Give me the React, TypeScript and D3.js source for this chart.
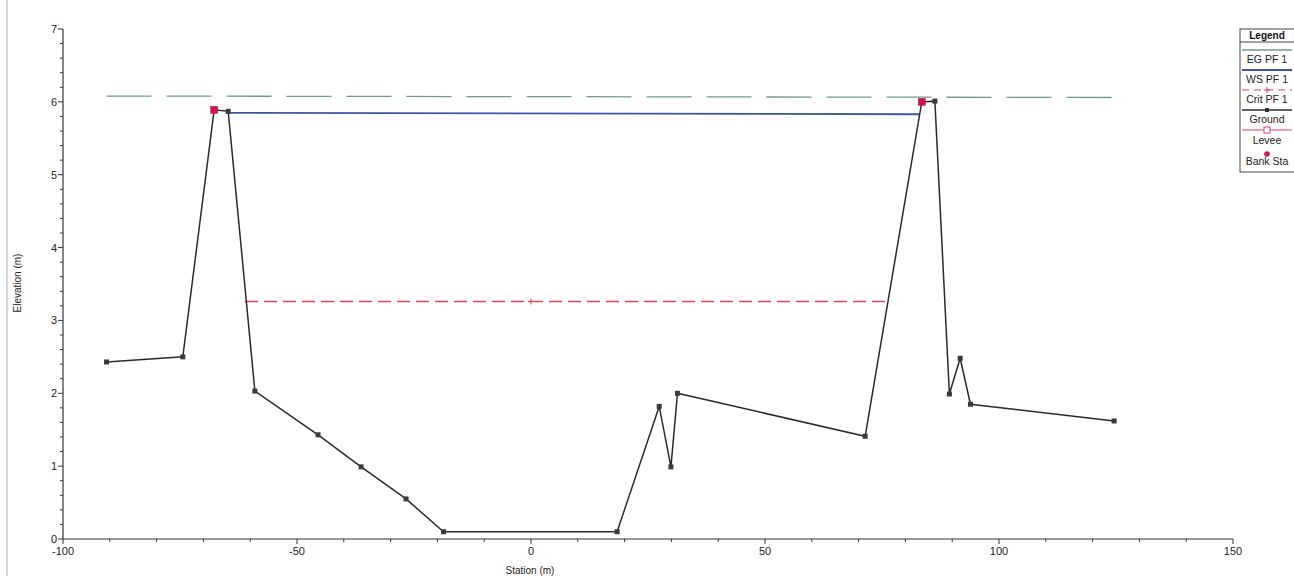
import React from "react";
import * as d3 from "d3";

const groundStation = [-90.7, -74.4, -67.7, -64.7, -59.0, -45.5, -36.3, -26.7, -18.7, 18.4, 27.4, 29.9, 31.3, 71.4, 83.5, 86.3, 89.4, 91.7, 93.9, 124.6];
const groundElev = [2.43, 2.5, 5.89, 5.87, 2.03, 1.43, 0.99, 0.55, 0.1, 0.1, 1.82, 0.99, 2.0, 1.41, 6.0, 6.01, 1.99, 2.48, 1.85, 1.62];
const leveeIndex = [2, 14];

const egStation = [-90.7, 124.6];
const egElev = [6.08, 6.06];
const wsStation = [-64.7, 83.1];
const wsElev = [5.85, 5.83];
const critStation = [-61.1, 77.0];
const critElev = [3.26, 3.26];
const critMarkStation = [0];

const xTicks = [-100, -50, 0, 50, 100, 150];
const yTicks = [0, 1, 2, 3, 4, 5, 6, 7];
const legendItems = ["EG PF 1", "WS PF 1", "Crit PF 1", "Ground", "Levee", "Bank Sta"];

export default function App() {
  const W = 1294, H = 576;
  const x = d3.scaleLinear().domain([-100, 150]).range([63, 1233]);
  const y = d3.scaleLinear().domain([0, 7]).range([539, 29]);
  const line = d3.line<[number, number]>().x(d => x(d[0])).y(d => y(d[1]));
  const ground: [number, number][] = groundStation.map((s, i) => [s, groundElev[i]]);
  const eg: [number, number][] = egStation.map((s, i) => [s, egElev[i]]);
  const ws: [number, number][] = wsStation.map((s, i) => [s, wsElev[i]]);
  const crit: [number, number][] = critStation.map((s, i) => [s, critElev[i]]);
  const xMinor = d3.range(-100, 151, 10).filter(v => v % 50 !== 0);
  const yMinor = d3.range(0, 7.01, 0.2).map(v => +v.toFixed(1)).filter(v => Math.abs(v - Math.round(v)) > 0.01);
  const font = "Liberation Sans, Arial, sans-serif";
  const axisColor = "#333";
  const critColor = "#e0405c";

  const lx0 = 1240, lx1 = 1294, lcx = 1267;
  const symY = [50, 70, 90, 110, 130, 154];
  const txtY = [63, 83, 103, 123, 144, 165];

  return (
    <svg width={W} height={H} style={{ position: "absolute", left: 0, top: 0, background: "#fff" }} fontFamily={font}>
      <rect x={0} y={0} width={W} height={H} fill="#fff" />
      <line x1={7} x2={7} y1={0} y2={H} stroke="#c8c8c8" strokeWidth={1.5} />

      {/* EG */}
      <path d={line(eg) || ""} fill="none" stroke="#6f9c88" strokeWidth={1.3} strokeDasharray="45,15" />
      {/* WS */}
      <path d={line(ws) || ""} fill="none" stroke="#3b55a8" strokeWidth={1.8} />
      {/* Crit */}
      <path d={line(crit) || ""} fill="none" stroke={critColor} strokeWidth={1.4} strokeDasharray="13,6" />
      {critMarkStation.map((s, i) => (
        <g key={i} stroke={critColor} strokeWidth={1}>
          <line x1={x(s) - 3} x2={x(s) + 3} y1={y(critElev[0])} y2={y(critElev[0])} />
          <line x1={x(s)} x2={x(s)} y1={y(critElev[0]) - 3} y2={y(critElev[0]) + 3} />
        </g>
      ))}
      {/* Ground */}
      <path d={line(ground) || ""} fill="none" stroke="#2a2a2a" strokeWidth={1.5} />
      {ground.map((p, i) =>
        leveeIndex.includes(i) ? null : (
          <rect key={i} x={x(p[0]) - 2.5} y={y(p[1]) - 2.5} width={5} height={5} fill="#3a3a3a" />
        )
      )}
      {leveeIndex.map(i => (
        <rect key={"l" + i} x={x(ground[i][0]) - 3.5} y={y(ground[i][1]) - 3.5} width={7} height={7} fill="#d0174f" stroke="#b01040" strokeWidth={0.5} />
      ))}

      {/* Axes */}
      <line x1={x(-100)} x2={x(150)} y1={y(0)} y2={y(0)} stroke={axisColor} strokeWidth={1.2} />
      <line x1={x(-100)} x2={x(-100)} y1={y(0)} y2={y(7)} stroke={axisColor} strokeWidth={1.2} />
      {xTicks.map(t => (
        <g key={"xt" + t}>
          <line x1={x(t)} x2={x(t)} y1={y(0)} y2={y(0) + 5} stroke={axisColor} />
          <text x={x(t)} y={y(0) + 16} textAnchor="middle" fontSize={11} fill="#222">{t}</text>
        </g>
      ))}
      {xMinor.map(t => (
        <line key={"xm" + t} x1={x(t)} x2={x(t)} y1={y(0)} y2={y(0) + 3} stroke={axisColor} />
      ))}
      {yTicks.map(t => (
        <g key={"yt" + t}>
          <line x1={x(-100) - 5} x2={x(-100)} y1={y(t)} y2={y(t)} stroke={axisColor} />
          <text x={x(-100) - 6} y={y(t) + 4} textAnchor="end" fontSize={11} fill="#222">{t}</text>
        </g>
      ))}
      {yMinor.map(t => (
        <line key={"ym" + t} x1={x(-100) - 3} x2={x(-100)} y1={y(t)} y2={y(t)} stroke={axisColor} />
      ))}
      <text x={530} y={574} textAnchor="middle" fontSize={10} fill="#222">Station (m)</text>
      <text transform="translate(21,283) rotate(-90)" textAnchor="middle" fontSize={10} fill="#222">Elevation (m)</text>

      {/* Legend */}
      <rect x={lx0} y={29} width={lx1 - lx0 + 2} height={143} fill="#fff" stroke="#444" strokeWidth={1} />
      <line x1={lx0} x2={lx1} y1={42} y2={42} stroke="#444" />
      <text x={lcx} y={39} textAnchor="middle" fontSize={10} fontWeight="bold" fill="#111">Legend</text>
      <line x1={lx0 + 2} x2={lx1 - 2} y1={symY[0]} y2={symY[0]} stroke="#6f9c88" strokeWidth={1.3} />
      <line x1={lx0 + 2} x2={lx1 - 2} y1={symY[1]} y2={symY[1]} stroke="#3b55a8" strokeWidth={1.8} />
      <line x1={lx0 + 2} x2={lx1 - 2} y1={symY[2]} y2={symY[2]} stroke={critColor} strokeWidth={1} strokeDasharray="7,5" />
      <line x1={lcx - 3} x2={lcx + 3} y1={symY[2]} y2={symY[2]} stroke={critColor} />
      <line x1={lcx} x2={lcx} y1={symY[2] - 3} y2={symY[2] + 3} stroke={critColor} />
      <line x1={lx0 + 2} x2={lx1 - 2} y1={symY[3]} y2={symY[3]} stroke="#2a2a2a" strokeWidth={1.5} />
      <rect x={lcx - 2} y={symY[3] - 2} width={4} height={4} fill="#333" />
      <line x1={lx0 + 2} x2={lx1 - 2} y1={symY[4]} y2={symY[4]} stroke="#d0407a" strokeWidth={1.2} />
      <rect x={lcx - 3} y={symY[4] - 3} width={6} height={6} fill="#fff" stroke="#d0407a" />
      <circle cx={lcx} cy={symY[5]} r={2.8} fill="#d0174f" />
      {legendItems.map((t, i) => (
        <text key={t} x={lcx} y={txtY[i]} textAnchor="middle" fontSize={10.5} fill="#222">{t}</text>
      ))}
    </svg>
  );
}
